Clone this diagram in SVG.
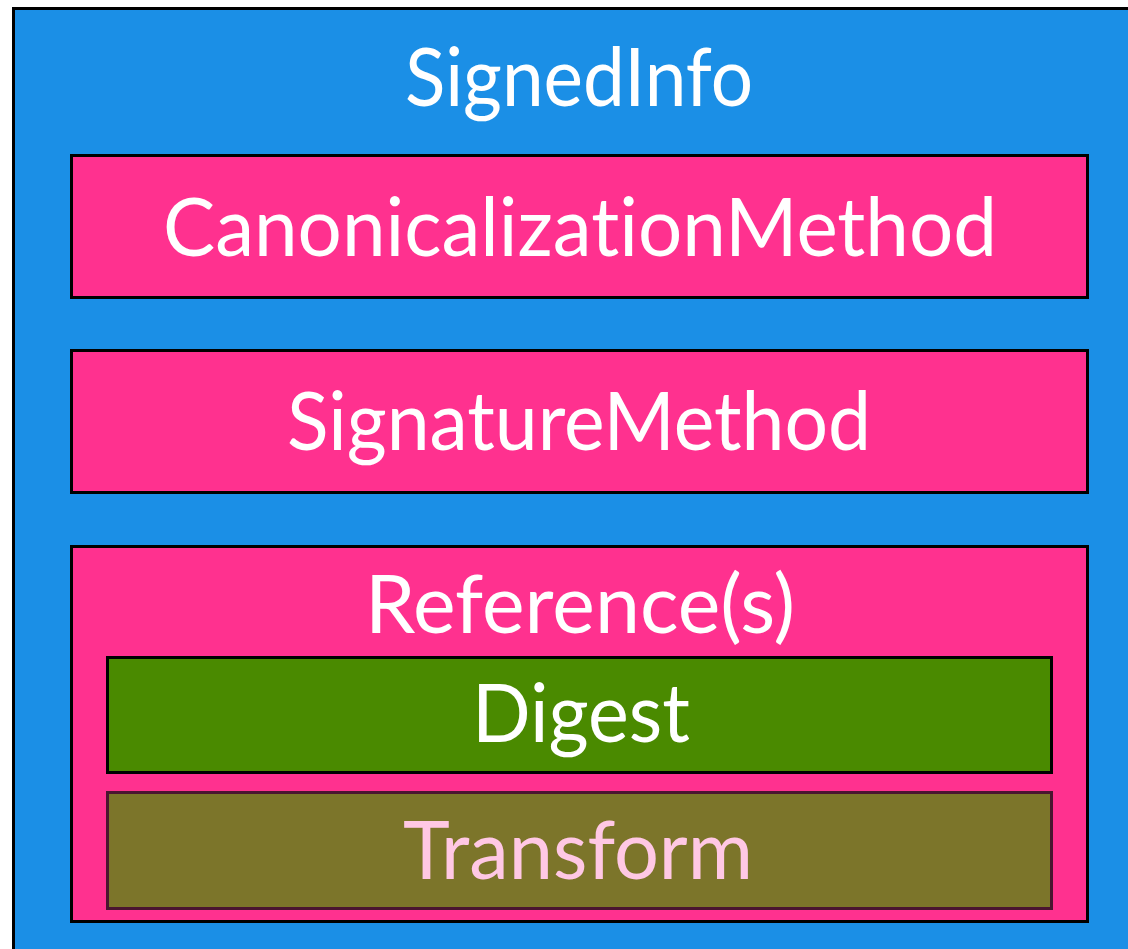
<svg xmlns="http://www.w3.org/2000/svg" width="1128" height="949" viewBox="0 0 1128 949">
  <style>
    .box { stroke: #000; stroke-width: 3; }
    .outer { fill: #1b8fe6; }
    .pink { fill: #ff318f; }
    .digest { fill: #4a8a00; }
    .transform { fill: #7c752a; stroke: #4a1530; }
    text { font-family: "Lato", "Open Sans", "Liberation Sans", sans-serif; font-size: 82px; fill: #ffffff; text-anchor: middle; font-variant-ligatures: none; font-feature-settings: "liga" 0, "dlig" 0; }
    .pinktext { fill: #ffc8e4; }
  </style>
  <rect width="1128" height="949" fill="#ffffff"/>
  <g id="signedinfo">
    <rect class="box outer" x="13.5" y="8.5" width="1130" height="960"/>
    <text x="579" y="106" textLength="348" lengthAdjust="spacingAndGlyphs">SignedInfo</text>
  </g>
  <g id="canonicalization-method">
    <rect class="box pink" x="71.5" y="155.5" width="1016" height="142"/>
    <text x="580" y="256" font-size="86" textLength="834" lengthAdjust="spacingAndGlyphs">CanonicalizationMethod</text>
  </g>
  <g id="signature-method">
    <rect class="box pink" x="71.5" y="350.5" width="1016" height="142"/>
    <text x="579" y="450" font-size="84" textLength="584" lengthAdjust="spacingAndGlyphs">SignatureMethod</text>
  </g>
  <g id="references">
    <rect class="box pink" x="71.5" y="546.5" width="1016" height="375"/>
    <text x="580" y="633" textLength="430" lengthAdjust="spacingAndGlyphs">Reference(s)</text>
  </g>
  <g id="digest">
    <rect class="box digest" x="107.5" y="657.5" width="944" height="115"/>
    <text x="581" y="742" textLength="218" lengthAdjust="spacingAndGlyphs">Digest</text>
  </g>
  <g id="transform">
    <rect class="box transform" x="107.5" y="792.5" width="944" height="116"/>
    <text class="pinktext" x="578" y="879" textLength="350" lengthAdjust="spacingAndGlyphs">Transform</text>
  </g>
  <g id="connectors"/>
</svg>
